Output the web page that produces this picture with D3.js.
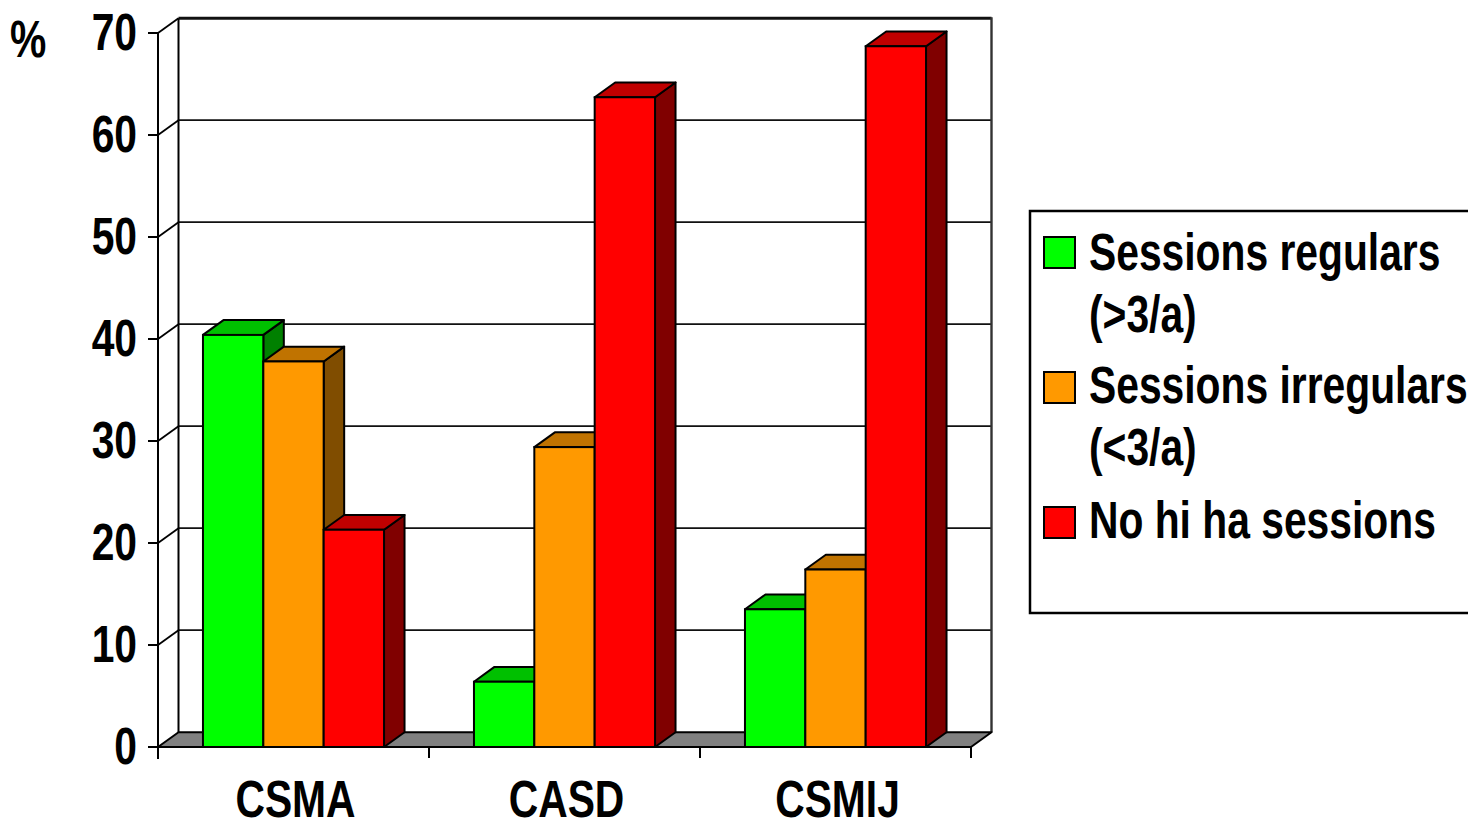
<!DOCTYPE html>
<html>
<head>
<meta charset="utf-8">
<script src="https://cdn.jsdelivr.net/npm/d3@7"></script>
<style>
  html, body { margin: 0; padding: 0; background: #fff; }
  svg { display: block; }
  text { font-family: "Liberation Sans", Arial, sans-serif; font-weight: bold; fill: #000; }
</style>
</head>
<body>
<svg id="chart" width="1468" height="824"></svg>
<script>
// Data
const categories = ["CSMA", "CASD", "CSMIJ"];
const seriesNames = ["Sessions regulars (>3/a)", "Sessions irregulars (<3/a)", "No hi ha sessions"];
const seriesLegendLines = [["Sessions regulars", "(>3/a)"], ["Sessions irregulars", "(<3/a)"], ["No hi ha sessions"]];
const regulars   = [40.4, 6.4, 13.5];
const irregulars = [37.8, 29.4, 17.4];
const noSessions = [21.3, 63.7, 68.7];
const yTicks = [0, 10, 20, 30, 40, 50, 60, 70];

// Face colours per series: front, top, side
const faceColors = [
  { front: "#00ff00", top: "#00c000", side: "#008000" },
  { front: "#ff9900", top: "#c07300", side: "#804d00" },
  { front: "#ff0000", top: "#c00000", side: "#800000" }
];

const svg = d3.select("#chart");
const fontSize = 51;
const narrow = 0.8; // horizontal squeeze for a condensed bold face

// Draws a condensed text label anchored at (px, py)
function label(parent, px, py, str, anchor, dyEm) {
  const t = parent.append("g")
    .attr("transform", `translate(${px},${py}) scale(${narrow},1)`)
    .append("text")
    .attr("text-anchor", anchor || "start")
    .style("font-size", fontSize + "px")
    .text(str);
  if (dyEm) t.attr("dy", dyEm);
  return t;
}

// Plot frame (front plane) and oblique depth offset
const x0 = 158, x1 = 971, yBase = 747, yTop = 33;
const dx = 20.5, dy = -14.8;

const y = d3.scaleLinear().domain([0, 70]).range([yBase, yTop]);
const x = d3.scaleBand().domain(categories).range([x0, x1]).paddingInner(0).paddingOuter(0);
const xs = d3.scaleBand().domain(d3.range(3)).range([0, x.bandwidth()]).paddingInner(0).paddingOuter(0.745);

const values = [regulars, irregulars, noSessions];

// Back wall gridlines
const g = svg.append("g");
g.selectAll("line.grid").data(yTicks.filter(t => t > 0)).join("line")
  .attr("x1", x0 + dx).attr("x2", x1 + dx)
  .attr("y1", d => y(d) + dy).attr("y2", d => y(d) + dy)
  .attr("stroke", "#111").attr("stroke-width", d => d === 70 ? 3 : 1.8);

// Left wall diagonals connecting the front axis to the back wall
g.selectAll("line.diag").data(yTicks.filter(t => t > 0)).join("line")
  .attr("x1", x0).attr("x2", x0 + dx)
  .attr("y1", d => y(d)).attr("y2", d => y(d) + dy)
  .attr("stroke", "#000").attr("stroke-width", 1.8);

// Back wall left and right edges
g.append("line").attr("x1", x0 + dx).attr("x2", x0 + dx)
  .attr("y1", y(70) + dy).attr("y2", y(0) + dy)
  .attr("stroke", "#000").attr("stroke-width", 2);
g.append("line").attr("x1", x1 + dx).attr("x2", x1 + dx)
  .attr("y1", y(70) + dy - 1).attr("y2", y(0) + dy)
  .attr("stroke", "#333").attr("stroke-width", 2.4);

// Floor
g.append("path")
  .attr("d", `M${x0},${y(0)}L${x1},${y(0)}L${x1 + dx},${y(0) + dy}L${x0 + dx},${y(0) + dy}Z`)
  .attr("fill", "#808080").attr("stroke", "#000").attr("stroke-width", 2).attr("stroke-linejoin", "round");

// 3D bars
const bars = [];
categories.forEach((c, ci) => {
  values.forEach((vals, si) => {
    bars.push({ cat: c, si, v: vals[ci] });
  });
});

const barG = svg.append("g");
const barSel = barG.selectAll("g.bar").data(bars).join("g").attr("class", "bar");
barSel.each(function(d) {
  const gg = d3.select(this);
  const bx = x(d.cat) + xs(d.si);
  const bw = xs.bandwidth();
  const ty = y(d.v), by = y(0);
  const col = faceColors[d.si];
  // side
  gg.append("path")
    .attr("d", `M${bx + bw},${ty}L${bx + bw + dx},${ty + dy}L${bx + bw + dx},${by + dy}L${bx + bw},${by}Z`)
    .attr("fill", col.side).attr("stroke", "#000").attr("stroke-width", 2).attr("stroke-linejoin", "round");
  // top
  gg.append("path")
    .attr("d", `M${bx},${ty}L${bx + dx},${ty + dy}L${bx + bw + dx},${ty + dy}L${bx + bw},${ty}Z`)
    .attr("fill", col.top).attr("stroke", "#000").attr("stroke-width", 2).attr("stroke-linejoin", "round");
  // front
  gg.append("rect")
    .attr("x", bx).attr("y", ty).attr("width", bw).attr("height", by - ty)
    .attr("fill", col.front).attr("stroke", "#000").attr("stroke-width", 2);
});

// Front axes
const ax = svg.append("g");
ax.append("line").attr("x1", x0).attr("x2", x0).attr("y1", y(70)).attr("y2", y(0) + 12)
  .attr("stroke", "#000").attr("stroke-width", 2);
ax.append("line").attr("x1", x0).attr("x2", x1).attr("y1", y(0)).attr("y2", y(0))
  .attr("stroke", "#000").attr("stroke-width", 2);
ax.selectAll("line.ytick").data(yTicks).join("line")
  .attr("x1", x0 - 10).attr("x2", x0).attr("y1", d => y(d)).attr("y2", d => y(d))
  .attr("stroke", "#000").attr("stroke-width", 2);
const catEdges = categories.map(c => x(c) + x.bandwidth());
ax.selectAll("line.xtick").data(catEdges).join("line")
  .attr("x1", d => d).attr("x2", d => d).attr("y1", y(0)).attr("y2", y(0) + 11)
  .attr("stroke", "#000").attr("stroke-width", 2);

// Y tick labels
yTicks.forEach(t => label(ax, 137, y(t) - 1, String(t), "end", "0.36em"));

// Unit label
label(svg, 10, 57, "%", "start");

// Category labels
categories.forEach(c => label(ax, x(c) + x.bandwidth() / 2 + 2, 817, c, "middle"));

// Legend
const lg = svg.append("g");
lg.append("rect").attr("x", 1030).attr("y", 211).attr("width", 470).attr("height", 402)
  .attr("fill", "#fff").attr("stroke", "#000").attr("stroke-width", 2.5);
const swatchY = [237, 372, 507];
const lineBase = [[270, 332], [403, 465], [538]];
seriesNames.forEach((name, i) => {
  lg.append("rect").attr("x", 1044).attr("y", swatchY[i]).attr("width", 31).attr("height", 31)
    .attr("fill", faceColors[i].front).attr("stroke", "#000").attr("stroke-width", 2);
  seriesLegendLines[i].forEach((ln, j) => label(lg, 1089, lineBase[i][j], ln, "start"));
});
</script>
</body>
</html>
